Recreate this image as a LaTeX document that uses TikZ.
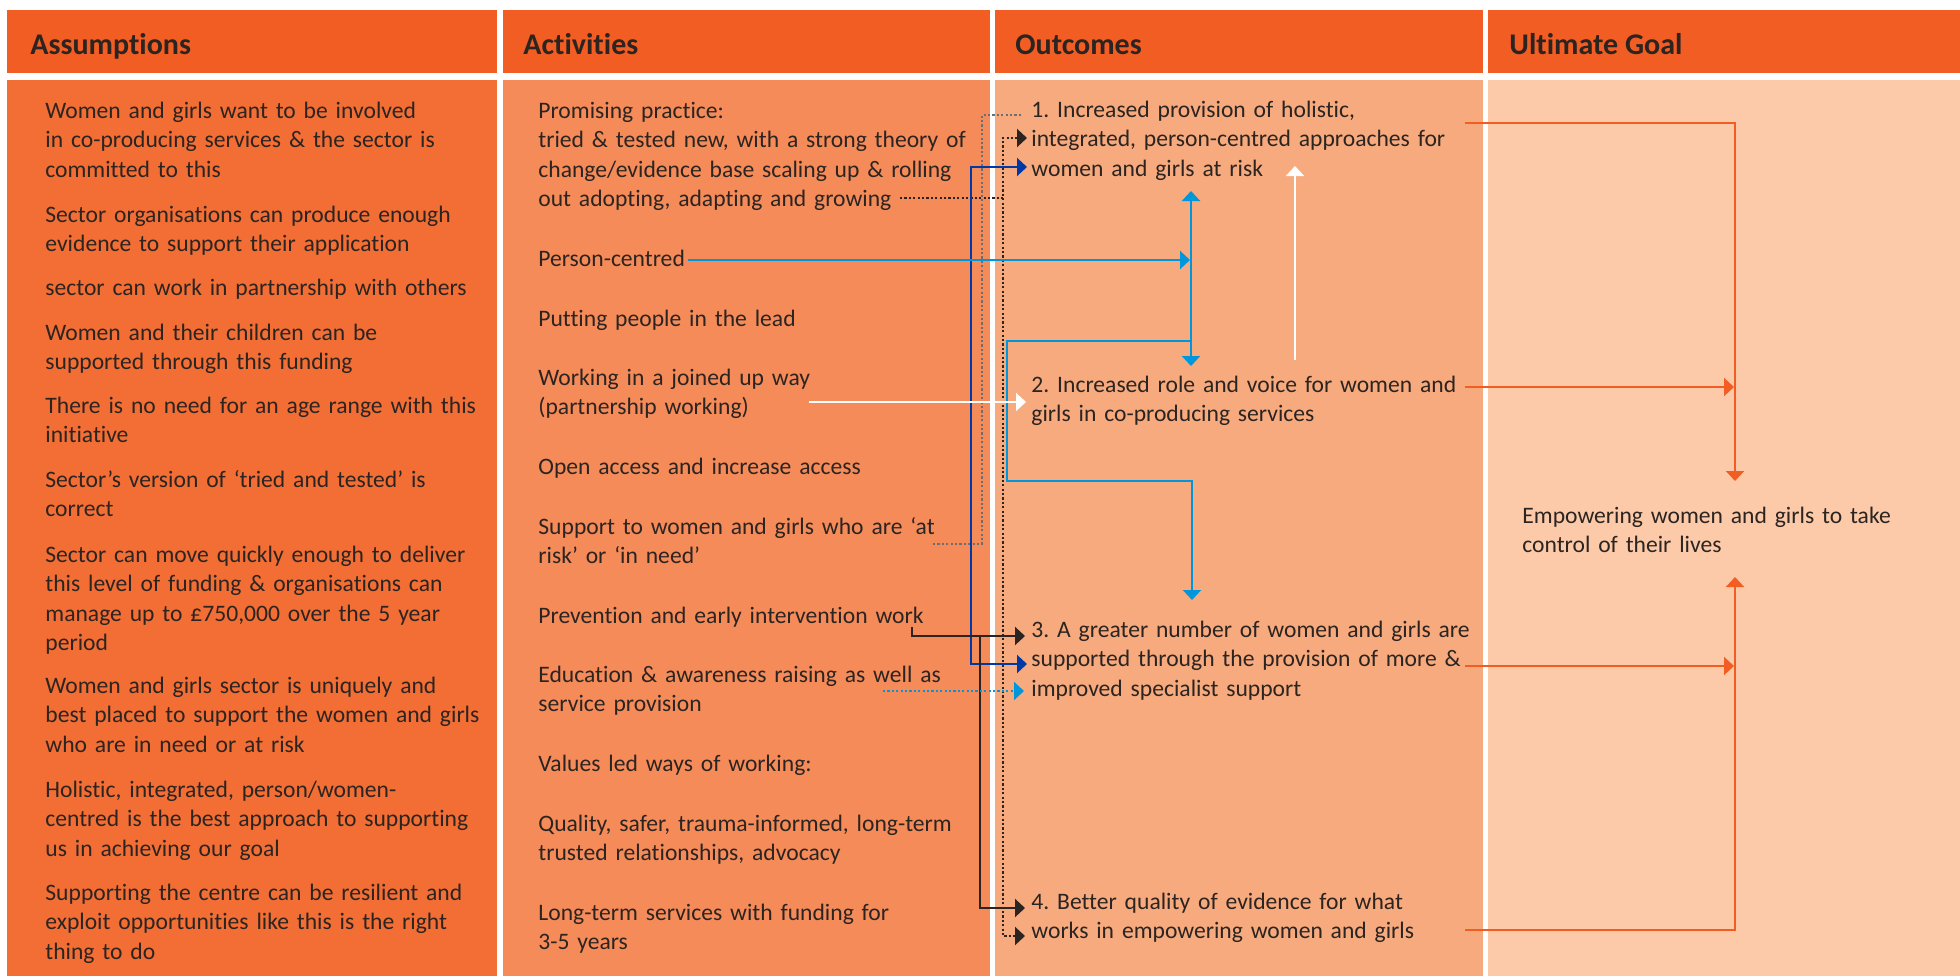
\documentclass[tikz,border=0pt]{standalone}
\usepackage{fontspec}
\setmainfont{Carlito}[Ligatures=NoCommon]
\usetikzlibrary{arrows.meta}

\definecolor{hdr}{HTML}{F15D22}
\definecolor{colA}{HTML}{F26E34}
\definecolor{colB}{HTML}{F58B59}
\definecolor{colC}{HTML}{F7AA7D}
\definecolor{colD}{HTML}{FCCAA9}
\definecolor{ink}{HTML}{2B2421}
\definecolor{skyblue}{HTML}{0096DC}
\definecolor{navy}{HTML}{0039A6}
\definecolor{greydot}{HTML}{6D6E71}

\begin{document}
\frenchspacing
\begin{tikzpicture}[x=0.5pt, y=-0.5pt,
  >={Triangle[length=5pt,width=9pt]},
  head/.style={anchor = base west, inner sep=0pt, text=ink, font=\bfseries\fontsize{15pt}{18pt}\selectfont},
  body/.style={anchor = base west, inner sep=0pt, text=ink, align=left, text width=#1, font=\fontsize{11.8pt}{14.75pt}\selectfont},
  body/.default=235pt,
  link/.style={line width=1.1pt},
  dotlink/.style={line width=1.1pt, dash pattern=on 1.1pt off 1.1pt}]

\useasboundingbox (0,0) rectangle (1960,976);

\fill[hdr] (7,10) rectangle (497,73);
\fill[hdr] (503,10) rectangle (990,73);
\fill[hdr] (995,10) rectangle (1483,73);
\fill[hdr] (1488,10) rectangle (1960,73);
\fill[colA] (7,80) rectangle (497,976);
\fill[colB] (503,80) rectangle (990,976);
\fill[colC] (995,80) rectangle (1483,976);
\fill[colD] (1488,80) rectangle (1960,976);

\node[head] (hAss) at (30,54) {Assumptions};
\node[head] (hAct) at (523,54) {Activities};
\node[head] (hOut) at (1015,54) {Outcomes};
\node[head] (hGoal) at (1509,54) {Ultimate Goal};

% assumptions
\node[body] (a1) at (45,118) {Women and girls want to be involved\\in co-producing services \& the sector is\\committed to this};
\node[body] (a2) at (45,222) {Sector organisations can produce enough\\evidence to support their application};
\node[body] (a3) at (45,295) {sector can work in partnership with others};
\node[body] (a4) at (45,340) {Women and their children can be\\supported through this funding};
\node[body] (a5) at (45,413) {There is no need for an age range with this\\initiative};
\node[body] (a6) at (45,487) {Sector’s version of ‘tried and tested’ is\\correct};
\node[body] (a7) at (45,562) {Sector can move quickly enough to deliver\\this level of funding \& organisations can\\manage up to £750,000 over the 5 year\\period};
\node[body] (a8) at (45,693) {Women and girls sector is uniquely and\\best placed to support the women and girls\\who are in need or at risk};
\node[body] (a9) at (45,797) {Holistic, integrated, person/women-\\centred is the best approach to supporting\\us in achieving our goal};
\node[body] (a10) at (45,900) {Supporting the centre can be resilient and\\exploit opportunities like this is the right\\thing to do};

% activities
\node[body] (b1) at (538,118) {Promising practice:\\tried \& tested new, with a strong theory of\\change/evidence base scaling up \& rolling\\out adopting, adapting and growing};
\node[body] (b2) at (538,266) {Person-centred};
\node[body] (b3) at (538,326) {Putting people in the lead};
\node[body] (b4) at (538,385) {Working in a joined up way\\(partnership working)};
\node[body] (b5) at (538,474) {Open access and increase access};
\node[body] (b6) at (538,534) {Support to women and girls who are ‘at\\risk’ or ‘in need’};
\node[body] (b7) at (538,623) {Prevention and early intervention work};
\node[body] (b8) at (538,682) {Education \& awareness raising as well as\\service provision};
\node[body] (b9) at (538,771) {Values led ways of working:};
\node[body] (b10) at (538,831) {Quality, safer, trauma-informed, long-term\\trusted relationships, advocacy};
\node[body] (b11) at (538,920) {Long-term services with funding for\\3-5 years};

% outcomes
\node[body] (c1) at (1031,117) {1. Increased provision of holistic,\\integrated, person-centred approaches for\\women and girls at risk};
\node[body] (c2) at (1031,392) {2. Increased role and voice for women and\\girls in co-producing services};
\node[body] (c3) at (1031,637) {3. A greater number of women and girls are\\supported through the provision of more \&\\improved specialist support};
\node[body] (c4) at (1031,909) {4. Better quality of evidence for what\\works in empowering women and girls};

% goal
\node[body=220pt] (d1) at (1522,523) {Empowering women and girls to take\\control of their lives};

% grey dotted from 'at risk'
\coordinate (gyA) at (933,544);
\coordinate (gyB) at (982,544);
\coordinate (gyC) at (982,115);
\coordinate (gyD) at (1022,115);
\draw[greydot, dotlink] (gyA) -- (gyB) -- (gyC) -- (gyD);

% black dotted from 'growing'
\coordinate (bdA) at (900,198);
\coordinate (bdB) at (1003,198);
\coordinate (bdT) at (1003,138);
\coordinate (bdU) at (1027,138);
\coordinate (bdL) at (1003,936);
\coordinate (bdM) at (1025,936);
\draw[ink, dotlink] (bdA) -- (bdB);
\draw[ink, dotlink, <->] (bdU) -- (bdT) -- (bdL) -- (bdM);

% navy bracket
\coordinate (nvA) at (1027,167);
\coordinate (nvB) at (971,167);
\coordinate (nvC) at (971,664);
\coordinate (nvD) at (1027,664);
\draw[navy, link, <->] (nvA) -- (nvB) -- (nvC) -- (nvD);

% prevention
\coordinate (pvA) at (912,627);
\coordinate (pvB) at (912,636);
\coordinate (pvC) at (1025,636);
\coordinate (pvD) at (980,636);
\coordinate (pvE) at (980,908);
\coordinate (pvF) at (1025,908);
\draw[ink, link, ->] (pvA) -- (pvB) -- (pvC);
\draw[ink, link, ->] (pvD) -- (pvE) -- (pvF);

% person-centred
\coordinate (pcA) at (688,260);
\coordinate (pcB) at (1190,260);
\coordinate (vbT) at (1191,191);
\coordinate (vbB) at (1191,366);
\coordinate (sbA) at (1191,341);
\coordinate (sbB) at (1007,341);
\coordinate (sbC) at (1007,481);
\coordinate (sbD) at (1192,481);
\coordinate (sbE) at (1192,600);
\draw[skyblue, link, ->] (pcA) -- (pcB);
\draw[skyblue, link, <->] (vbT) -- (vbB);
\draw[skyblue, link, ->] (sbA) -- (sbB) -- (sbC) -- (sbD) -- (sbE);

% education
\coordinate (edA) at (883,691);
\coordinate (edB) at (1024,691);
\draw[skyblue, dotlink, ->] (edA) -- (edB);

% joined up
\coordinate (jwA) at (809,402);
\coordinate (jwB) at (1026,402);
\coordinate (upA) at (1295,360);
\coordinate (upB) at (1295,166);
\draw[white, link, ->] (jwA) -- (jwB);
\draw[white, link, ->] (upA) -- (upB);

% to the goal
\coordinate (o1A) at (1465,123);
\coordinate (o1B) at (1735,123);
\coordinate (o1C) at (1735,481);
\coordinate (o2A) at (1465,387);
\coordinate (o2B) at (1734,387);
\coordinate (o3A) at (1465,666);
\coordinate (o3B) at (1734,666);
\coordinate (o4A) at (1465,930);
\coordinate (o4B) at (1735,930);
\coordinate (o4C) at (1735,577);
\draw[hdr, link, ->] (o1A) -- (o1B) -- (o1C);
\draw[hdr, link, ->] (o2A) -- (o2B);
\draw[hdr, link, ->] (o3A) -- (o3B);
\draw[hdr, link, ->] (o4A) -- (o4B) -- (o4C);

\end{tikzpicture}
\end{document}
